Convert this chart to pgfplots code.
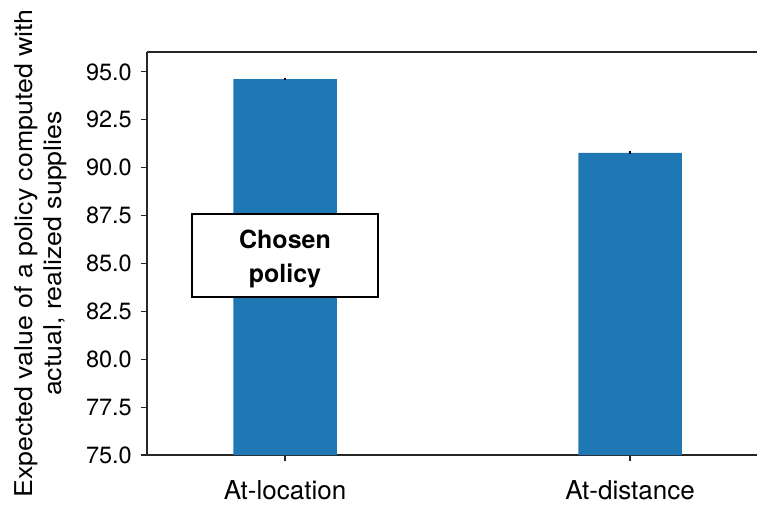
\documentclass[border=0pt]{standalone}
\usepackage{fontspec}
\setmainfont{TeX Gyre Heros}
\newfontfamily\labelfont[FakeStretch=1.09]{TeX Gyre Heros}
\usepackage{pgfplots}
\pgfplotsset{compat=1.18}
\definecolor{barblue}{HTML}{1F77B4}
\definecolor{spine}{HTML}{262626}

\begin{document}
\begin{tikzpicture}
\begin{axis}[
  scale only axis,
  width=610pt, height=403pt,
  xmin=-0.4, xmax=1.368,
  ymin=75, ymax=96.04,
  axis x line*=box, axis y line*=left,
  axis line style={line width=1.3pt, spine},
  xtick pos=bottom, ytick pos=left,
  tick align=outside,
  major tick length=6pt,
  tick style={line width=1.1pt, spine},
  xtick={0,1},
  xticklabels={At-location, At-distance},
  ytick={75,77.5,...,95},
  /pgf/number format/assume math mode=true,
  yticklabel={\pgfmathprintnumber[fixed, fixed zerofill, precision=1]{\tick}},
  yticklabel style={font=\fontsize{23.5}{27}\selectfont, inner sep=0pt, xshift=-9pt},
  xticklabel style={font=\fontsize{26}{30}\selectfont, inner sep=0pt, anchor=north, yshift=-19pt},
]
\addplot[ybar, bar width=0.3, fill=barblue, draw=none,
  error bars/.cd, y dir=both, y explicit,
  error mark=none,
  error bar style={line width=2pt, black}]
  coordinates {(0,94.63) +- (0,0.07) (1,90.77) +- (0,0.08)};

% annotation box and its text
\node[draw=black, line width=1.3pt, fill=white, minimum width=186pt,
  minimum height=83pt, inner sep=0pt] at (axis cs:0,85.42) {};
\node[align=center, inner sep=0pt,
  font=\fontsize{25}{34}\selectfont\bfseries]
  at ([yshift=-4pt]axis cs:0,85.42) {Chosen\\policy};
\end{axis}

\node[rotate=90, anchor=south, inner sep=0pt, align=center,
  font=\labelfont\fontsize{24.5}{29}\selectfont]
  at ([xshift=-80pt]current axis.west)
  {Expected value of a policy computed with\\actual, realized supplies};

\pgfresetboundingbox
\path[use as bounding box] ([shift={(-147pt,-49pt)}]current axis.south west)
  rectangle ++(757pt,504pt);
\end{tikzpicture}
\end{document}
